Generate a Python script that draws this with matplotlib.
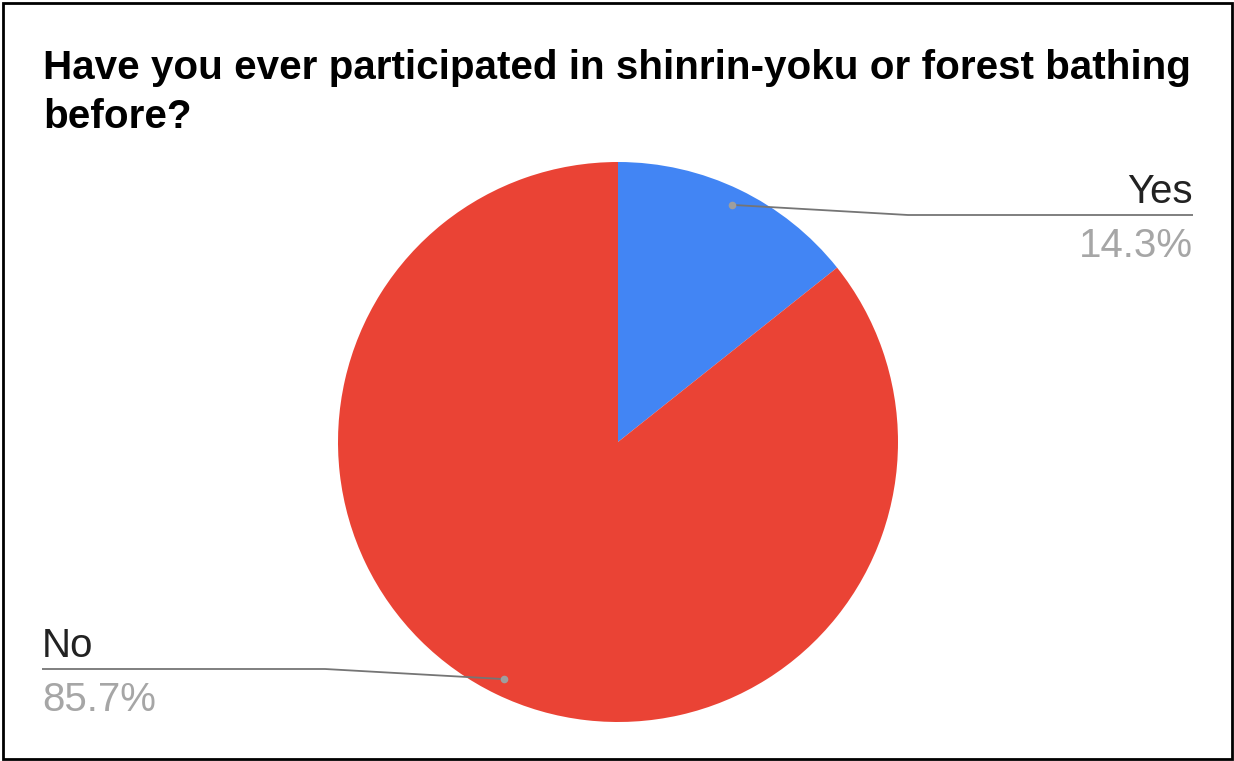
import numpy as np
import matplotlib
matplotlib.use("Agg")
import matplotlib.pyplot as plt
from matplotlib.patches import Rectangle

# Survey answers
labels = ["Yes", "No"]
shares = [14.3, 85.7]
colors = ["#4285F4", "#EA4335"]
title = "Have you ever participated in shinrin-yoku or forest bathing\nbefore?"

W, H = 1234, 761
fig = plt.figure(figsize=(W / 100, H / 100), dpi=100)
ax = fig.add_axes([0, 0, 1, 1])

cx, cy, r = 618, H - 442, 280
wedges, _ = ax.pie(shares, colors=colors, startangle=90, counterclock=False,
                   center=(cx, cy), radius=r, frame=True,
                   wedgeprops=dict(linewidth=0))
ax.set_xlim(0, W)
ax.set_ylim(0, H)
ax.set_aspect("equal")
ax.axis("off")

font = "Liberation Sans"
fig.text(43 / W, 1 - 128 / H, title, ha="left", va="baseline", fontsize=29.1,
         fontweight="bold", family=font, color="#000000", linespacing=1.36)

# Leader lines: from a dot inside each slice, to an elbow, then horizontal under the label
line_color = "#757575"
dot_color = "#9E9E9E"
layout = {
    "Yes": dict(elbow=(908, 215), end=(1193, 215), ha="right"),
    "No": dict(elbow=(325, 669), end=(42, 669), ha="left"),
}
for w, lab, val in zip(wedges, labels, shares):
    mid = np.deg2rad((w.theta1 + w.theta2) / 2)
    dx, dy = cx + 0.94 * r * np.cos(mid), cy + 0.94 * r * np.sin(mid)
    L = layout[lab]
    ex, ey = L["elbow"][0], H - L["elbow"][1]
    tx, ty = L["end"][0], H - L["end"][1]
    ax.plot([dx, ex, tx], [dy, ey, ty], color=line_color, lw=1.3,
            solid_capstyle="butt", zorder=3)
    ax.plot(dx, dy, "o", color=dot_color, ms=5.5, mec="none", zorder=4)
    ax.text(tx, ty + 12, lab, ha=L["ha"], va="baseline", fontsize=29,
            family=font, color="#222222")
    ax.text(tx, ty - 42, f"{val:.1f}%", ha=L["ha"], va="baseline", fontsize=29,
            family=font, color="#A6A6A6")

# Outer frame
fig.patches.append(Rectangle((2.5 / W, 2.5 / H), 1 - 5 / W, 1 - 5 / H,
                             transform=fig.transFigure, fill=False,
                             edgecolor="#000000", linewidth=2))

fig.savefig("out.png", dpi=100, facecolor="white")
